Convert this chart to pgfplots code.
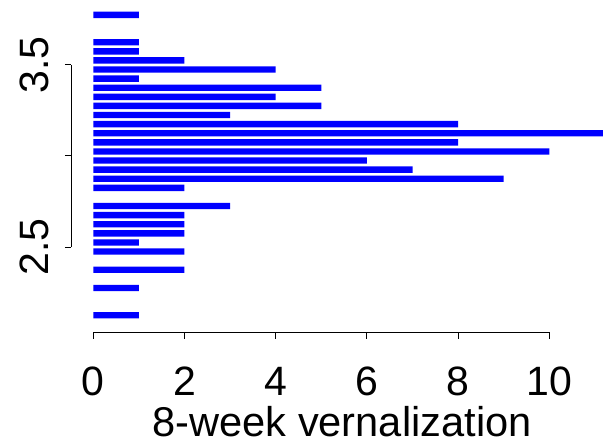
\documentclass[border=0pt]{standalone}
\usepackage{pgfplots}
\pgfplotsset{compat=1.18}
\usepackage{fontspec}
\setmainfont{Liberation Sans}
\definecolor{rblue}{RGB}{0,0,255}
\begin{document}
\begin{tikzpicture}
\useasboundingbox (-35.7pt,-54.9pt) rectangle (265.8pt,166.1pt);
\clip (-35.7pt,-54.9pt) rectangle (265.8pt,166.1pt);
\begin{axis}[
    at={(0,0)}, anchor=south west,
    scale only axis, width=295.5pt, height=167.1pt,
    xmin=-0.48, xmax=12.48, ymin=2.032, ymax=3.868,
    xbar, bar width=0.035, bar shift=0pt,
    clip=false,
    axis line style={draw=none},
    tick align=outside, major tick length=3.25pt,
    tick pos=left,
    tick style={black, line width=0.5pt},
    xtick={0,2,4,6,8,10}, xticklabels={0,2,4,6,8,10},
    ytick={2.5,3,3.5}, yticklabels={2.5,,3.5},
    tick label style={font=\fontsize{20.5}{24}\selectfont, inner sep=0pt},
    xticklabel style={anchor=base, yshift=-28.5pt},
    yticklabel style={anchor=base, rotate=90},
    yticklabel shift=8pt,
    xlabel={8-week vernalization},
    xlabel style={at={(axis description cs:0.458,0)}, anchor=base, yshift=-52pt, inner sep=0pt, font=\fontsize{20.8}{24}\selectfont},
]
\addplot[fill=rblue, draw=none] coordinates {
    (1,3.775)(1,3.625)(1,3.575)(2,3.525)(4,3.475)(1,3.425)(5,3.375)(4,3.325)
    (5,3.275)(3,3.225)(8,3.175)(12,3.125)(8,3.075)(10,3.025)(6,2.975)(7,2.925)
    (9,2.875)(2,2.825)(3,2.725)(2,2.675)(2,2.625)(2,2.575)(1,2.525)(2,2.475)
    (2,2.375)(1,2.275)(1,2.125)
};
\draw[line width=0.5pt] (axis cs:0,2.032) -- (axis cs:10,2.032);
\draw[line width=0.5pt] (axis cs:-0.48,2.5) -- (axis cs:-0.48,3.5);
\end{axis}
\end{tikzpicture}
\end{document}
